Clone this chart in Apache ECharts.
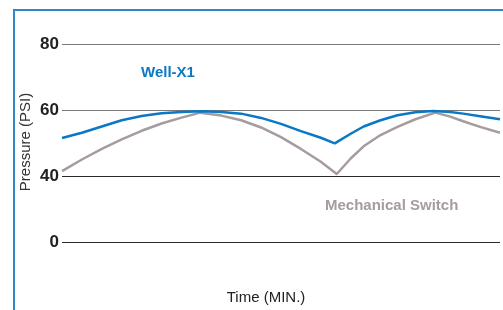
<!DOCTYPE html>
<html>
<head>
<meta charset="utf-8">
<script src="https://cdn.jsdelivr.net/npm/echarts@6/dist/echarts.min.js"></script>
<style>
  html, body { margin: 0; padding: 0; background: #fff; }
  #chart { width: 503px; height: 310px; }
</style>
</head>
<body>
<div id="chart"></div>
<script>
// y axis is broken: the bottom tick (20 on the scale) is shown as "0"
const yTicks = { 20: '0', 40: '40', 60: '60', 80: '80' }

// [time, PSI]
const wellX1 = [
  [0, 51.5], [1, 53.1], [2, 55.0], [3, 56.9], [4, 58.2], [5, 59.0], [6, 59.4],
  [7, 59.6], [8, 59.4], [9, 58.9], [10, 57.6], [11, 55.8], [12, 53.6], [13, 51.6],
  [13.7, 49.9], [14.5, 52.8], [15.15, 55.0], [16, 56.9], [16.85, 58.4], [17.75, 59.3],
  [18.65, 59.7], [19.5, 59.4], [20.15, 58.9], [21, 58.1], [22, 57.2]
]

const mechSwitch = [
  [0, 41.5], [1, 45.0], [2, 48.2], [3, 51.1], [4, 53.7], [5, 55.9], [6, 57.7],
  [6.95, 59.2], [8, 58.3], [9, 56.9], [10, 54.7], [11, 51.8], [12, 48.2], [13, 44.3],
  [13.8, 40.6], [14.5, 45.3], [15.15, 49.0], [16, 52.4], [16.85, 54.9], [17.75, 57.2],
  [18.75, 59.2], [19.5, 58.0], [20.15, 56.6], [21, 54.9], [22, 53.1]
]

const chart = echarts.init(document.getElementById('chart'))
chart.setOption({
  animation: false,
  backgroundColor: '#fff',
  grid: { left: 62, right: 3, top: 44, bottom: 68 },
  xAxis: {
    type: 'value',
    min: 0,
    max: 22,
    axisLine: { show: false },
    axisTick: { show: false },
    axisLabel: { show: false },
    splitLine: { show: false },
    name: 'Time (MIN.)',
    nameLocation: 'middle',
    nameGap: 48,
    nameTextStyle: {
      fontFamily: 'Liberation Sans',
      fontSize: 15,
      color: '#222',
      padding: [0, 30, 0, 0],
      verticalAlign: 'top'
    }
  },
  yAxis: {
    type: 'value',
    min: 20,
    max: 80,
    interval: 20,
    axisLine: { show: false },
    axisTick: { show: false },
    axisLabel: {
      margin: 3,
      fontFamily: 'Liberation Sans',
      fontWeight: 'bold',
      fontSize: 17,
      color: '#222',
      formatter: v => yTicks[v]
    },
    splitLine: {
      lineStyle: { color: ['#2a2a2a', '#2a2a2a', '#7a7a7a', '#7a7a7a'], width: 1.2 }
    }
  },
  series: [
    {
      name: 'Mechanical Switch',
      type: 'line',
      data: mechSwitch,
      smooth: false,
      showSymbol: false,
      lineStyle: { color: '#a69c9d', width: 2.5, join: 'round' },
      z: 2
    },
    {
      name: 'Well-X1',
      type: 'line',
      data: wellX1,
      smooth: false,
      showSymbol: false,
      lineStyle: { color: '#0a78c4', width: 2.5, join: 'round' },
      z: 3
    }
  ],
  graphic: [
    {
      type: 'rect',
      shape: { x: 14, y: 10, width: 600, height: 400 },
      style: { fill: 'none', stroke: '#2f86c8', lineWidth: 2 },
      silent: true
    },
    {
      // y axis title, placed by hand so it can sit close to the labels
      type: 'text',
      x: 26,
      y: 142,
      rotation: Math.PI / 2,
      style: {
        text: 'Pressure (PSI)',
        fill: '#333',
        font: '15px "Liberation Sans"',
        align: 'center',
        verticalAlign: 'middle'
      }
    },
    {
      type: 'text',
      left: 141,
      top: 65,
      style: {
        text: 'Well-X1',
        fill: '#0a78c4',
        font: 'bold 15px "Liberation Sans"'
      }
    },
    {
      type: 'text',
      left: 325,
      top: 198,
      style: {
        text: 'Mechanical Switch',
        fill: '#a69c9d',
        font: 'bold 15px "Liberation Sans"'
      }
    }
  ]
})
</script>
</body>
</html>
